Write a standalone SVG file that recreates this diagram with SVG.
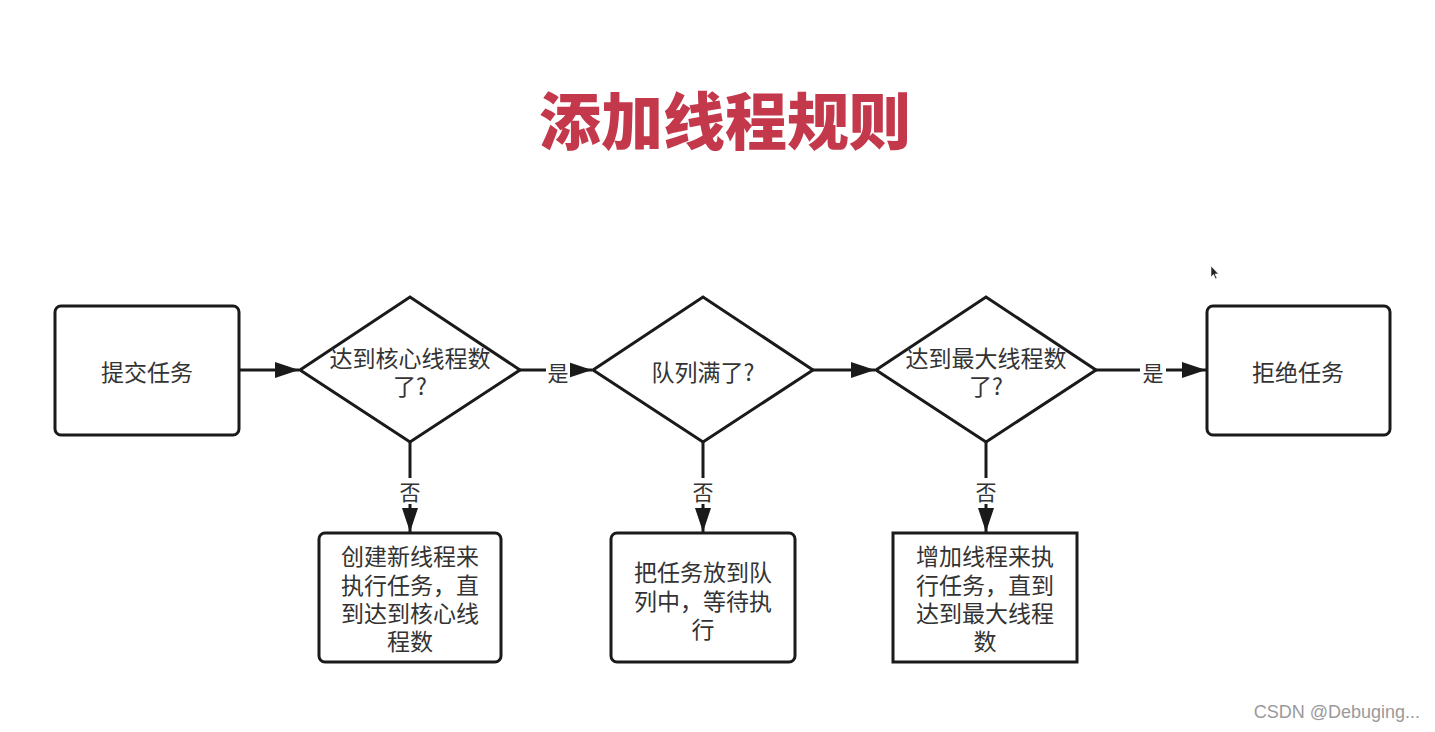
<svg xmlns="http://www.w3.org/2000/svg" width="1435" height="732" viewBox="0 0 1435 732">
<defs>
<style>
.n{fill:#fff;stroke:#1a1a1a;stroke-width:3}
.t{font-family:"Noto Sans CJK SC",sans-serif;font-size:23px;fill:#333;text-anchor:middle;dominant-baseline:central}
.c{stroke:#1a1a1a;stroke-width:3;fill:none}
.lb{font-family:"Noto Sans CJK SC",sans-serif;font-size:21px;fill:#333;text-anchor:middle;dominant-baseline:central}
</style>
<marker id="a" viewBox="0 0 24 16" refX="24" refY="8" markerWidth="24" markerHeight="16" markerUnits="userSpaceOnUse" orient="auto">
<path d="M0,0 L24,8 L0,16 z" fill="#1a1a1a"/>
</marker>
</defs>
<rect width="1435" height="732" fill="#fff"/>
<text x="725" y="118" font-family="'Noto Sans CJK SC',sans-serif" font-weight="900" font-size="62" fill="#c4384b" text-anchor="middle" dominant-baseline="central">添加线程规则</text>

<g id="connectors">
<line class="c" x1="239" y1="370" x2="299" y2="370" marker-end="url(#a)"/>
<line class="c" x1="520" y1="370" x2="592" y2="370" marker-end="url(#a)"/>
<rect x="546" y="358" width="24" height="24" fill="#fff"/>
<text class="lb" x="558" y="372">是</text>
<line class="c" x1="813" y1="370" x2="875" y2="370" marker-end="url(#a)"/>
<line class="c" x1="1096" y1="370" x2="1206" y2="370" marker-end="url(#a)"/>
<rect x="1140" y="358" width="26" height="24" fill="#fff"/>
<text class="lb" x="1153" y="372">是</text>
<line class="c" x1="410" y1="442" x2="410" y2="532" marker-end="url(#a)"/>
<rect x="398" y="478" width="24" height="26" fill="#fff"/>
<text class="lb" x="410" y="491">否</text>
<line class="c" x1="703" y1="442" x2="703" y2="532" marker-end="url(#a)"/>
<rect x="691" y="478" width="24" height="26" fill="#fff"/>
<text class="lb" x="703" y="491">否</text>
<line class="c" x1="986" y1="442" x2="986" y2="532" marker-end="url(#a)"/>
<rect x="974" y="478" width="24" height="26" fill="#fff"/>
<text class="lb" x="986" y="491">否</text>
</g>

<g id="submit">
<rect class="n" x="55" y="306" width="184" height="129" rx="6"/>
<text class="t" x="147" y="371">提交任务</text>
</g>
<g id="core">
<polygon class="n" points="300,370 410,297 520,370 410,442"/>
<text class="t" x="410" y="357">达到核心线程数</text>
<text class="t" x="410" y="385">了?</text>
</g>
<g id="queue">
<polygon class="n" points="593,370 703,297 813,370 703,442"/>
<text class="t" x="703" y="371">队列满了?</text>
</g>
<g id="max">
<polygon class="n" points="876,370 986,297 1096,370 986,442"/>
<text class="t" x="986" y="357">达到最大线程数</text>
<text class="t" x="986" y="385">了?</text>
</g>
<g id="reject">
<rect class="n" x="1207" y="306" width="183" height="129" rx="6"/>
<text class="t" x="1298" y="371">拒绝任务</text>
</g>
<g id="create">
<rect class="n" x="319" y="533" width="182" height="129" rx="6"/>
<text class="t" x="410" y="555">创建新线程来</text>
<text class="t" x="410" y="584">执行任务，直</text>
<text class="t" x="410" y="612">到达到核心线</text>
<text class="t" x="410" y="640">程数</text>
</g>
<g id="enqueue">
<rect class="n" x="611" y="533" width="184" height="129" rx="6"/>
<text class="t" x="703" y="571">把任务放到队</text>
<text class="t" x="703" y="600">列中，等待执</text>
<text class="t" x="703" y="628">行</text>
</g>
<g id="add">
<rect class="n" x="893" y="533" width="184" height="129"/>
<text class="t" x="985" y="555">增加线程来执</text>
<text class="t" x="985" y="584">行任务，直到</text>
<text class="t" x="985" y="612">达到最大线程</text>
<text class="t" x="985" y="640">数</text>
</g>
<path d="M1211,266 L1211,277 L1213.5,274.5 L1215.5,279 L1217,278.3 L1215,274 L1218.5,274 Z" fill="#222" stroke="#fff" stroke-width="0.6"/>
<text x="1420" y="712" font-family="'Liberation Sans',sans-serif" font-size="18" fill="#9a9a9a" text-anchor="end" dominant-baseline="central">CSDN @Debuging...</text>
</svg>
